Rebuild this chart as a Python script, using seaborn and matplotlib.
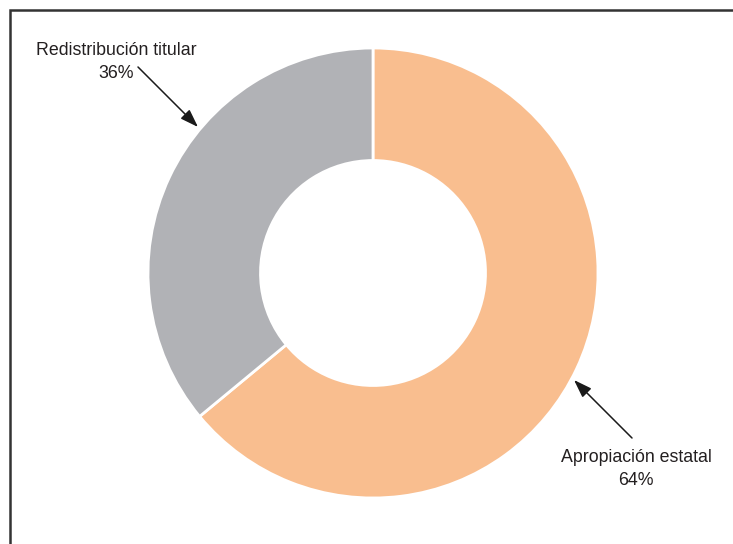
import matplotlib
matplotlib.use("Agg")
import matplotlib.pyplot as plt
from matplotlib.patches import Rectangle
import seaborn as sns

# Distribution of land ownership outcomes
categories = ["Apropiación estatal", "Redistribución titular"]
shares = [64, 36]
colors = ["#F9BE8F", "#B1B2B6"]

sns.set_style("white")
plt.rcParams["font.family"] = ["Liberation Sans", "DejaVu Sans"]

W, H = 733, 544
fig = plt.figure(figsize=(W / 100, H / 100), dpi=100)
ax = fig.add_axes([0, 0, 1, 1])

cx, cy, r = 373, H - 273, 225

ax.pie(
    shares,
    colors=colors,
    startangle=90,
    counterclock=False,
    radius=r,
    center=(cx, cy),
    wedgeprops=dict(width=r * 0.5, edgecolor="white", linewidth=2),
    frame=True,
)
ax.set_xlim(0, W)
ax.set_ylim(0, H)
ax.set_aspect("equal")
ax.axis("off")

text_kw = dict(ha="center", va="center", fontsize=12.8, color="#231f20",
               linespacing=1.4)
arrow = dict(arrowstyle="-|>,head_length=1.1,head_width=0.38", color="#1a1a1a",
             lw=1.1, shrinkA=0, shrinkB=0)

ax.text(116, H - 62, f"{categories[1]}\n{shares[1]}%", **text_kw)
ax.annotate("", xy=(198, H - 127), xytext=(138, H - 67), arrowprops=arrow)

ax.text(636, H - 469, f"{categories[0]}\n{shares[0]}%", **text_kw)
ax.annotate("", xy=(574, H - 380), xytext=(632, H - 438), arrowprops=arrow)

# outer frame
fig.patches.append(Rectangle((9.5 / W, -0.1), 1.2, (H - 9.5) / H + 0.1,
                             transform=fig.transFigure, fill=False,
                             edgecolor="#333333", linewidth=1.8, clip_on=False))

fig.savefig("out.png", dpi=100)
